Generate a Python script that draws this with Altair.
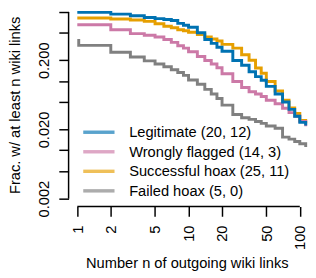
import altair as alt
import pandas as pd

# ---- data ----
series_names = ["Legitimate (20, 12)", "Wrongly flagged (14, 3)",
                "Successful hoax (25, 11)", "Failed hoax (5, 0)"]
series_colors = ["#0072B2", "#CC79A7", "#E69F00", "#808080"]

n_vals = [1, 2, 3, 4, 5, 6, 7, 8, 9, 10, 12, 14, 16, 18, 20, 25, 30, 35,
          40, 45, 50, 60, 70, 80, 90, 100, 113]

legit = [0.985, 0.93, 0.88, 0.83, 0.80, 0.778, 0.754, 0.684, 0.641, 0.60,
         0.50, 0.40, 0.351, 0.308, 0.27, 0.199, 0.17, 0.137, 0.116, 0.103,
         0.084, 0.065, 0.05, 0.039, 0.031, 0.0253, 0.0229]
wrongly = [0.651, 0.553, 0.486, 0.46, 0.434, 0.40, 0.363, 0.324, 0.30, 0.266,
           0.227, 0.199, 0.177, 0.156, 0.128, 0.099, 0.081, 0.07, 0.065, 0.06,
           0.053, 0.047, 0.0405, 0.035, 0.031, 0.026, 0.0222]
success = [0.818, 0.791, 0.766, 0.73, 0.673, 0.62, 0.59, 0.553, 0.536, 0.51,
           0.47, 0.434, 0.406, 0.38, 0.34, 0.30, 0.24, 0.20, 0.155, 0.13,
           0.099, 0.072, 0.053, 0.041, 0.034, 0.027, 0.0245]
failed_n = [1, 1.03, 2, 3, 4, 5, 6, 7, 8, 9, 10, 12, 14, 16, 18, 20, 25, 30,
            35, 40, 45, 50, 60, 70, 80, 90, 100, 113]
failed = [0.387, 0.329, 0.262, 0.223, 0.196, 0.177, 0.161, 0.146, 0.133, 0.121,
          0.104, 0.09, 0.076, 0.065, 0.056, 0.045, 0.033, 0.0296, 0.028, 0.026,
          0.0245, 0.0225, 0.0208, 0.0155, 0.0145, 0.0134, 0.0124, 0.0112]

x_ticks = [1, 2, 5, 10, 20, 50, 100]
y_ticks = [1, 0.5, 0.2, 0.1, 0.05, 0.02, 0.01, 0.005, 0.002]
y_labeled = [0.2, 0.02, 0.002]

X_TITLE = "Number n of outgoing wiki links"
Y_TITLE = "Frac. w/ at least n wiki links"
FONT = "Liberation Sans"

rows = []
# draw order: gray, orange, pink, blue (blue on top)
for name, ns, vals in [(series_names[3], failed_n, failed),
                       (series_names[2], n_vals, success),
                       (series_names[1], n_vals, wrongly),
                       (series_names[0], n_vals, legit)]:
    for n, v in zip(ns, vals):
        rows.append({"series": name, "n": n, "frac": v})
df = pd.DataFrame(rows)

axis_df = pd.DataFrame({"n": [x_ticks[0]], "n2": [x_ticks[-1]],
                        "frac": [y_ticks[-1]], "frac2": [y_ticks[0]]})

x_scale = alt.Scale(type="log", domain=[0.835, 118.5], nice=False)
y_scale = alt.Scale(type="log", domain=[0.00154, 1.03], nice=False)

label_expr = " || ".join(f"datum.value == {v}" for v in y_labeled)
label_expr = f"({label_expr}) ? format(datum.value, '.3f') : ''"

x_axis = alt.Axis(values=x_ticks, title=X_TITLE,
                  labelAngle=-90, labelAlign="right", labelBaseline="middle",
                  labelPadding=9, labelFlush=False, labelOverlap=False,
                  titleX=121, titleY=62, titleBaseline="alphabetic",
                  titleAlign="center")
y_axis = alt.Axis(values=y_ticks, labelExpr=label_expr, title=Y_TITLE,
                  labelAngle=-90, labelAlign="center",
                  labelBaseline="alphabetic", labelPadding=11,
                  labelFlush=False, labelOverlap=False,
                  titleX=-55, titleY=96, titleAngle=-90,
                  titleAlign="center", titleBaseline="middle")

lines = alt.Chart(df).mark_line(strokeWidth=3, interpolate="step-after",
                                clip=True).encode(
    x=alt.X("n:Q", scale=x_scale, axis=x_axis),
    y=alt.Y("frac:Q", scale=y_scale, axis=y_axis),
    color=alt.Color("series:N",
                    scale=alt.Scale(domain=series_names, range=series_colors),
                    legend=alt.Legend(title=None, orient="none", legendX=13,
                                      legendY=116.5, symbolType="stroke",
                                      symbolSize=1024, symbolStrokeWidth=3.5,
                                      symbolOpacity=0.65, labelFont=FONT,
                                      labelFontSize=15, labelColor="black",
                                      labelLimit=400,
                                      labelOffset=13, clipHeight=15,
                                      rowPadding=4, padding=0)),
)

x_axis_line = alt.Chart(axis_df).mark_rule(
    color="black", strokeWidth=1.5).encode(
    x=alt.X("n:Q", scale=x_scale, axis=x_axis), x2="n2:Q", y=alt.value(200))
y_axis_line = alt.Chart(axis_df).mark_rule(
    color="black", strokeWidth=1.5).encode(
    y=alt.Y("frac:Q", scale=y_scale, axis=y_axis), y2="frac2:Q", x=alt.value(0))

chart = alt.layer(lines, x_axis_line, y_axis_line).properties(
    width=245, height=200,
    padding={"left": 62, "top": 0, "right": 0, "bottom": 68},
    autosize=alt.AutoSizeParams(type="none"),
).configure_view(strokeWidth=0).configure_axis(
    domain=False, grid=False, ticks=True, tickSize=10, tickWidth=1.5,
    tickColor="black", labelFont=FONT, labelFontSize=15, labelColor="black",
    titleFont=FONT, titleFontSize=15, titleFontWeight="normal", titleColor="black",
)

chart.save("out.html", embed_options={"renderer": "svg", "actions": False})
